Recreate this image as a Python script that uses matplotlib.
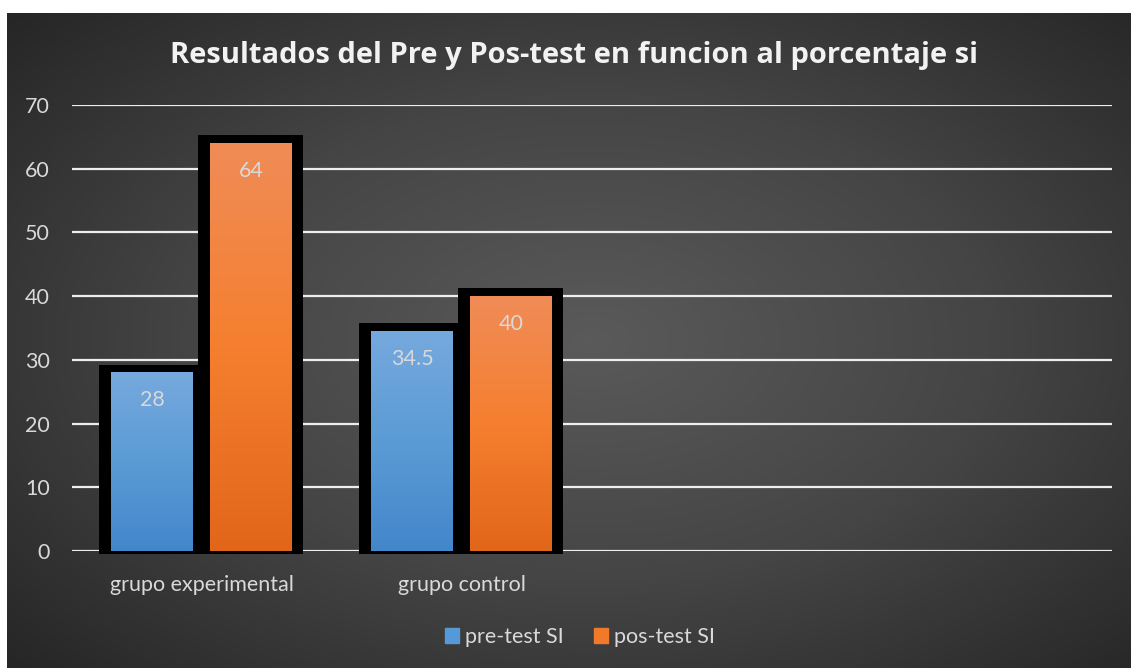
import numpy as np
import matplotlib.pyplot as plt
from matplotlib.colors import LinearSegmentedColormap
from matplotlib.patches import Patch

categorias = ['grupo experimental', 'grupo control', '', '']
pre_test = [28, 34.5]
pos_test = [64, 40]
series = ['pre-test SI', 'pos-test SI']
titulo = 'Resultados del Pre y Pos-test en funcion al porcentaje si'

plt.rcParams['font.family'] = ['Lato', 'DejaVu Sans']

W, H = 1131, 668
fig = plt.figure(figsize=(W / 100, H / 100), dpi=100)
fig.patch.set_facecolor('white')

# dark radial background of the chart area
bg = fig.add_axes([7 / W, 0, 1 - 7 / W, (H - 13) / H])
yy, xx = np.mgrid[0:1:300j, 0:1:500j]
r = np.sqrt(((xx - 0.52) / 0.5) ** 2 + ((yy - 0.5) / 0.52) ** 2) / np.sqrt(2)
bg_cmap = LinearSegmentedColormap.from_list('bg', ['#5a5a5a', '#454545', '#262626'])
bg.imshow(r, cmap=bg_cmap, aspect='auto', extent=[0, 1, 0, 1], vmin=0, vmax=1)
bg.axis('off')

ax = fig.add_axes([72 / W, (H - 551) / H, 1040 / W, (551 - 105) / H])
ax.set_facecolor('none')
ax.set_xlim(-0.5, 3.5)
ax.set_ylim(0, 70)
ax.set_yticks(range(0, 71, 10))
ax.set_xticks(range(len(categorias)))
ax.set_xticklabels(categorias)
for s in ax.spines.values():
    s.set_visible(False)
ax.tick_params(axis='both', length=0, colors='#D9D9D9', labelsize=15.5)
ax.tick_params(axis='y', pad=16)
ax.tick_params(axis='x', pad=17)
ax.yaxis.grid(True, color='#EEEEEE', lw=1.6, zorder=1)
ax.set_axisbelow(True)

bw = 0.315
offs = [-0.192, 0.19]
px_x = 4 / 1040
px_y = 70 / 446
grads = [['#76A9DE', '#5B9BD5', '#4387CB'], ['#F08C57', '#F57F2F', '#E2661A']]
x = np.arange(len(pre_test))

for vals, off in zip([pre_test, pos_test], offs):
    # black shadow box behind each bar
    for xi, v in zip(x + off, vals):
        ax.bar(xi - bw / 2 - 12 * px_x, v + 8 * px_y + 3 * px_y, width=bw + 23 * px_x,
               bottom=-3 * px_y, align='edge', color='black', zorder=2, clip_on=False)
for vals, off, cols, name in zip([pre_test, pos_test], offs, grads, series):
    bars = ax.bar(x + off, vals, width=bw, color=cols[1], zorder=3, label=name)
    cmap = LinearSegmentedColormap.from_list(name, cols[::-1])
    grad = np.linspace(0, 1, 256).reshape(-1, 1)
    for b, v in zip(bars, vals):
        x0 = b.get_x()
        ax.imshow(grad, cmap=cmap, aspect='auto', origin='lower',
                  extent=[x0, x0 + bw, 0, v], zorder=4)
        ax.annotate(f'{v:g}', (x0 + bw / 2, v), xytext=(0, -20),
                    textcoords='offset points', ha='center', va='center',
                    color='#D9D9D9', fontsize=15.5, zorder=5)
ax.set_xlim(-0.5, 3.5)
ax.set_ylim(0, 70)

fig.text(574 / W, 1 - 55 / H, titulo, ha='center', va='center',
         fontsize=21, fontweight='bold', color='#F2F2F2', family='Open Sans')

handles = [Patch(color='#5599D8'), Patch(color='#F07A2A')]
fig.legend(handles, series, loc='center', bbox_to_anchor=(580 / W, 1 - 637 / H),
           ncol=2, frameon=False, fontsize=15.5, labelcolor='#D9D9D9',
           handlelength=0.65, handleheight=0.65, handletextpad=0.3, columnspacing=1.4)

plt.savefig('out.png', dpi=100)
